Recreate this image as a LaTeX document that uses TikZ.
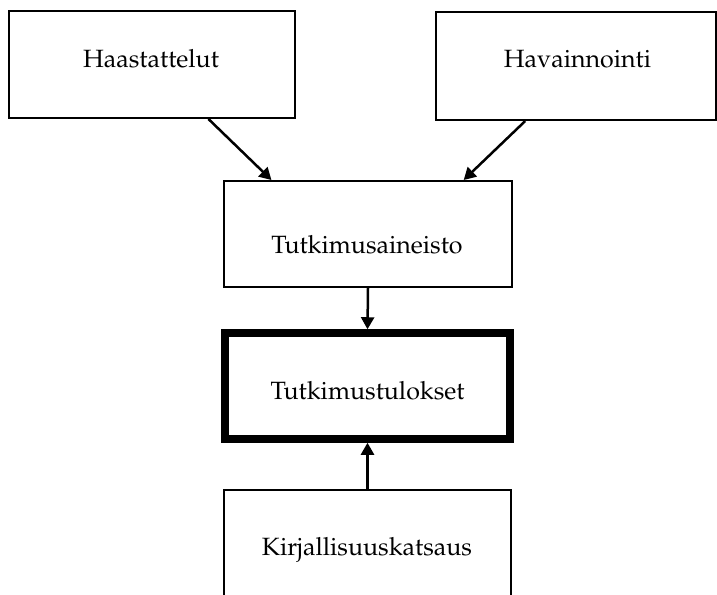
\documentclass[tikz,border=0pt]{standalone}
\usepackage[T1]{fontenc}
\usepackage{mathpazo}
\usetikzlibrary{arrows.meta,calc}
\begin{document}
\begin{tikzpicture}[x=1pt,y=-1pt,
  box/.style={draw,line width=2pt,rectangle,inner sep=0pt},
  mainbox/.style={draw,line width=7.5pt,rectangle,inner sep=0pt},
  lbl/.style={font=\fontsize{25}{30}\selectfont,inner sep=0pt,anchor=base},
  link/.style={line width=2.5pt,-{Triangle[length=12pt,width=13pt]}}]
\useasboundingbox (0,0) rectangle (717,594);
% boxes
\node[box,minimum width=286pt,minimum height=107pt] (haas) at (152,64.5) {};
\node[box,minimum width=280pt,minimum height=108pt] (hava) at (576,66) {};
\node[box,minimum width=288pt,minimum height=106pt] (aine) at (368,234) {};
\node[mainbox,minimum width=285pt,minimum height=106pt] (tulos) at (367.5,386) {};
\node[box,minimum width=287pt,minimum height=120pt] (kirj) at (367.5,550) {};
% labels
\node[lbl] (thaas) at (151,67) {Haastattelut};
\node[lbl] (thava) at (577.5,67) {Havainnointi};
\node[lbl] (taine) at (367,253) {Tutkimusaineisto};
\node[lbl] (ttulos) at (367.5,399) {Tutkimustulokset};
\node[lbl] (tkirj) at (367,555) {Kirjallisuuskatsaus};
% connectors
\draw[link] ($(haas.south west)!0.696!(haas.south east)$) -- ($(aine.north west)!0.167!(aine.north east)$);
\draw[link] ($(hava.south west)!0.32!(hava.south east)$) -- ($(aine.north west)!0.83!(aine.north east)$);
\draw[link] (aine.south) -- (tulos.north);
\draw[link] (kirj.north) -- (tulos.south);
\end{tikzpicture}
\end{document}
